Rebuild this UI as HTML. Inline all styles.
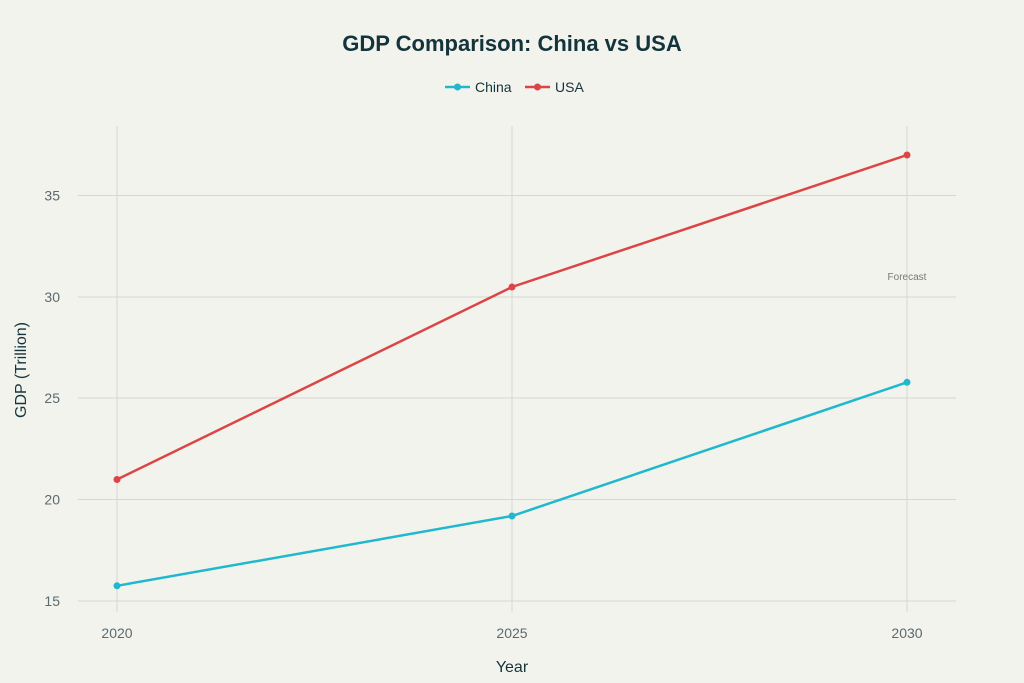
<!DOCTYPE html>
<html><head><meta charset="utf-8"><style>
html,body{margin:0;padding:0;background:#f3f3ee;}
svg{display:block;font-family:"Liberation Sans",sans-serif;}
</style></head><body>
<svg width="1024" height="683" viewBox="0 0 1024 683">
<rect width="1024" height="683" fill="#f3f3ee"/>
<text x="512" y="51" text-anchor="middle" font-size="22" font-weight="bold" fill="#13343b">GDP Comparison: China vs USA</text>
<g font-size="14" fill="#13343b">
<line x1="445" y1="87" x2="470" y2="87" stroke="#1fb8cd" stroke-width="2.5"/><circle cx="457.5" cy="87" r="3.5" fill="#1fb8cd"/>
<text x="475" y="92">China</text>
<line x1="525" y1="87" x2="550" y2="87" stroke="#db4545" stroke-width="2.5"/><circle cx="537.5" cy="87" r="3.5" fill="#db4545"/>
<text x="555" y="92">USA</text>
</g>
<g stroke="#d6d6d2" stroke-width="1">
<line x1="78" y1="601" x2="956" y2="601"/>
<line x1="78" y1="499.5" x2="956" y2="499.5"/>
<line x1="78" y1="398" x2="956" y2="398"/>
<line x1="78" y1="297" x2="956" y2="297"/>
<line x1="78" y1="195.5" x2="956" y2="195.5"/>
<line x1="117" y1="126" x2="117" y2="612"/>
<line x1="512" y1="126" x2="512" y2="612"/>
<line x1="907" y1="126" x2="907" y2="612"/>
</g>
<g font-size="14" fill="#5a6a6e" text-anchor="end">
<text x="60" y="606">15</text><text x="60" y="504.5">20</text><text x="60" y="403">25</text><text x="60" y="302">30</text><text x="60" y="200.5">35</text>
</g>
<g font-size="14" fill="#5a6a6e" text-anchor="middle">
<text x="117" y="638">2020</text><text x="512" y="638">2025</text><text x="907" y="638">2030</text>
</g>
<text x="512" y="672" text-anchor="middle" font-size="16" fill="#13343b">Year</text>
<text transform="translate(26,370) rotate(-90)" text-anchor="middle" font-size="16" fill="#13343b">GDP (Trillion)</text>
<text x="907" y="280" text-anchor="middle" font-size="10" fill="#777">Forecast</text>
<polyline points="117,585.8 512,516 907,382.3" fill="none" stroke="#1fb8cd" stroke-width="2.5"/>
<g fill="#1fb8cd"><circle cx="117" cy="585.8" r="3.5"/><circle cx="512" cy="516" r="3.5"/><circle cx="907" cy="382.3" r="3.5"/></g>
<polyline points="117,479.5 512,287 907,155" fill="none" stroke="#db4545" stroke-width="2.5"/>
<g fill="#db4545"><circle cx="117" cy="479.5" r="3.5"/><circle cx="512" cy="287" r="3.5"/><circle cx="907" cy="155" r="3.5"/></g>
</svg>
</body></html>
